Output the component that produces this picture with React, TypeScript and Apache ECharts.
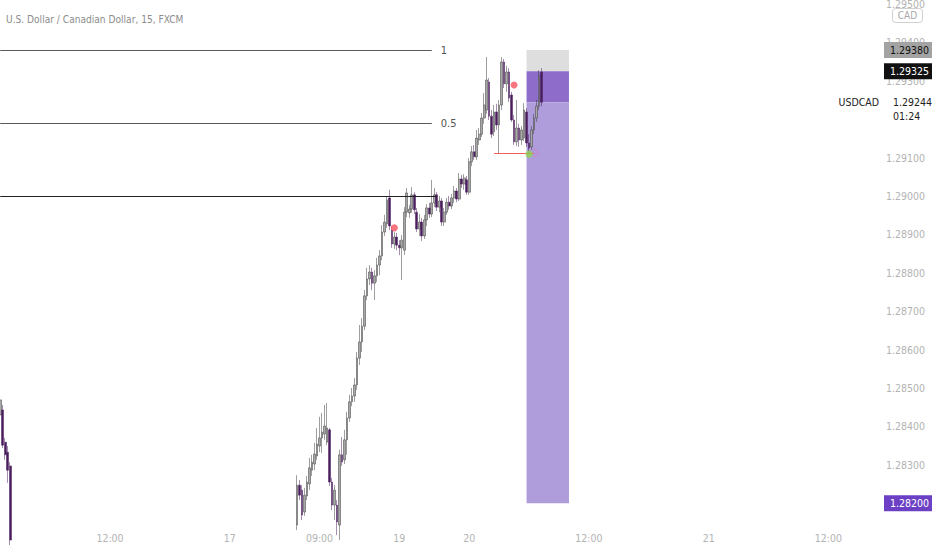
import React, { useEffect, useRef } from "react";
import * as echarts from "echarts";

// ---- data ----
const titleText = "U.S. Dollar / Canadian Dollar, 15, FXCM";
const symbolName = "USDCAD";
const countdown = "01:24";

// 15-minute bars: [open, close, low, high]
const leftStart = "16 01:00";
const leftCandles: number[][] = [
  [1.2843, 1.28469, 1.28422, 1.28482],
  [1.28443, 1.28351, 1.28344, 1.28456],
  [1.28359, 1.28326, 1.28313, 1.2837],
  [1.28333, 1.28286, 1.28253, 1.28349],
  [1.28297, 1.28104, 1.28091, 1.28307],
];

const mainStart = "17 06:45";
const mainCandles: number[][] = [
  [1.28143, 1.28247, 1.2813, 1.28273],
  [1.28247, 1.28221, 1.28208, 1.2826],
  [1.28234, 1.28169, 1.28156, 1.28247],
  [1.28177, 1.28221, 1.28167, 1.2824],
  [1.28219, 1.28255, 1.28208, 1.28271],
  [1.2825, 1.28292, 1.28234, 1.28318],
  [1.28286, 1.28307, 1.28271, 1.28326],
  [1.28302, 1.28328, 1.28286, 1.28357],
  [1.28323, 1.28354, 1.28313, 1.28396],
  [1.28349, 1.2837, 1.28333, 1.28425],
  [1.2837, 1.28385, 1.28331, 1.28435],
  [1.2838, 1.28401, 1.28365, 1.28456],
  [1.28359, 1.28396, 1.28351, 1.28461],
  [1.28391, 1.28255, 1.28245, 1.28396],
  [1.28255, 1.28195, 1.28182, 1.28266],
  [1.28195, 1.28234, 1.28156, 1.28247],
  [1.28195, 1.28151, 1.28117, 1.28208],
  [1.28143, 1.28326, 1.28104, 1.28339],
  [1.28326, 1.28307, 1.28297, 1.28372],
  [1.28313, 1.28365, 1.28302, 1.28391],
  [1.28365, 1.28422, 1.28326, 1.28438],
  [1.28422, 1.28464, 1.28412, 1.28482],
  [1.28464, 1.28479, 1.28453, 1.285],
  [1.28479, 1.28508, 1.28464, 1.28526],
  [1.28508, 1.28578, 1.28495, 1.28594],
  [1.28578, 1.2862, 1.2856, 1.28664],
  [1.2862, 1.28661, 1.28594, 1.28682],
  [1.28661, 1.2874, 1.28651, 1.28755],
  [1.2874, 1.28784, 1.28729, 1.28813],
  [1.28784, 1.28802, 1.28768, 1.2882],
  [1.28802, 1.28773, 1.28755, 1.28813],
  [1.28773, 1.28792, 1.28729, 1.28807],
  [1.28792, 1.2882, 1.28776, 1.28839],
  [1.2882, 1.28844, 1.28794, 1.28859],
  [1.28844, 1.28906, 1.28833, 1.28924],
  [1.28906, 1.28932, 1.28896, 1.28951],
  [1.28927, 1.2899, 1.28917, 1.29],
  [1.28995, 1.28922, 1.28911, 1.29016],
  [1.28911, 1.28875, 1.28865, 1.28922],
  [1.28875, 1.28893, 1.28862, 1.28906],
  [1.28893, 1.28872, 1.28859, 1.28904],
  [1.28872, 1.28865, 1.28846, 1.28885],
  [1.28865, 1.28885, 1.28781, 1.28898],
  [1.28859, 1.28958, 1.28846, 1.28971],
  [1.28958, 1.29008, 1.28945, 1.29021],
  [1.28956, 1.28966, 1.28943, 1.28977],
  [1.28966, 1.29003, 1.28956, 1.29023],
  [1.29003, 1.28964, 1.28953, 1.2901],
  [1.28958, 1.28914, 1.28906, 1.28969],
  [1.28914, 1.28932, 1.28896, 1.28953],
  [1.28932, 1.28896, 1.28883, 1.28943],
  [1.28896, 1.28938, 1.28888, 1.28951],
  [1.28938, 1.28969, 1.28922, 1.28979],
  [1.28969, 1.28953, 1.28943, 1.28982],
  [1.28953, 1.28982, 1.28945, 1.29042],
  [1.28982, 1.29003, 1.28971, 1.29021],
  [1.29003, 1.28971, 1.28961, 1.2901],
  [1.28971, 1.28987, 1.28958, 1.29],
  [1.28987, 1.28932, 1.28922, 1.28995],
  [1.28932, 1.28958, 1.28922, 1.28969],
  [1.28958, 1.28984, 1.28951, 1.28995],
  [1.28984, 1.28974, 1.28964, 1.29],
  [1.28974, 1.28995, 1.28966, 1.29005],
  [1.28995, 1.29013, 1.28982, 1.29026],
  [1.29013, 1.28992, 1.28984, 1.29021],
  [1.28992, 1.29044, 1.28987, 1.2906],
  [1.29044, 1.29031, 1.29021, 1.29055],
  [1.29031, 1.29047, 1.29016, 1.29057],
  [1.29042, 1.2901, 1.29003, 1.29052],
  [1.2901, 1.29089, 1.29003, 1.29099],
  [1.29089, 1.29115, 1.29078, 1.2913],
  [1.29115, 1.29102, 1.29094, 1.29133],
  [1.29102, 1.29151, 1.29094, 1.29172],
  [1.29146, 1.29161, 1.29133, 1.29177],
  [1.29161, 1.29203, 1.29154, 1.29216],
  [1.29203, 1.29237, 1.29188, 1.29268],
  [1.29224, 1.29302, 1.29214, 1.29362],
  [1.29297, 1.29208, 1.29198, 1.29307],
  [1.29208, 1.29161, 1.29151, 1.29224],
  [1.29167, 1.29219, 1.29156, 1.29237],
  [1.29219, 1.29185, 1.29172, 1.2924],
  [1.29185, 1.29237, 1.29112, 1.2925],
  [1.29237, 1.29349, 1.29224, 1.29362],
  [1.29349, 1.29292, 1.29281, 1.29357],
  [1.29292, 1.29323, 1.29271, 1.29339],
  [1.29323, 1.29255, 1.29245, 1.29333],
  [1.29263, 1.29198, 1.29193, 1.29271],
  [1.29198, 1.29141, 1.29133, 1.29211],
  [1.29141, 1.29177, 1.2913, 1.2925],
  [1.29177, 1.29146, 1.29128, 1.29188],
  [1.29146, 1.29172, 1.29133, 1.29182],
  [1.29151, 1.29224, 1.29143, 1.29242],
  [1.29219, 1.29138, 1.29128, 1.29229],
  [1.29138, 1.29125, 1.29109, 1.29161],
  [1.29128, 1.29172, 1.2912, 1.29182],
  [1.29172, 1.29203, 1.29161, 1.29214],
  [1.29203, 1.29234, 1.29193, 1.2925],
  [1.29234, 1.29313, 1.29224, 1.29328],
  [1.29323, 1.29244, 1.29234, 1.29333],
];

const barCount = 354;
const xTickTimes = ["16 12:00", "17 00:00", "17 09:00", "19 17:00", "20 00:00", "20 12:00", "21 00:00", "21 12:00"];
const xTickLabels = ["12:00", "17", "09:00", "19", "20", "12:00", "21", "12:00"];
const yTicks = [1.283, 1.284, 1.285, 1.286, 1.287, 1.288, 1.289, 1.29, 1.291, 1.293, 1.294, 1.295];
const yMin = 1.2814583;
const yMax = 1.2951042;

const fibLabels = ["1", "0.5"];
const fibPrices = [1.2938, 1.2919];
const fibStart = "16 01:00";
const fibEnd = "19 20:15";
const baseLinePrice = 1.29;
const baseLineEnd = "19 20:45";

const signalTimes = ["17 16:30", "20 04:30", "20 06:00"];
const signalPrices = [1.28917, 1.29289, 1.29109];
const signalColors = ["#f7525f", "#f7525f", "#8fd44f"];

const sweepStart = "20 02:30";
const sweepEnd = "20 06:30";
const sweepArrow = "20 06:45";
const sweepPrice = 1.29112;

const posStart = "20 05:45";
const posEnd = "20 10:00";
const stopPrice = 1.2938;
const entryPrice = 1.29325;
const lastPrice = 1.29244;
const targetPrice = 1.282;

// ---- helpers ----
function pad(n: number) {
  return n < 10 ? "0" + n : String(n);
}
function buildTimes(count: number): string[] {
  const out: string[] = [];
  let d = 16;
  let m = 60;
  for (let i = 0; i < count; i++) {
    out.push(`${d} ${pad(Math.floor(m / 60))}:${pad(m % 60)}`);
    m += 15;
    if (m >= 1440) {
      m -= 1440;
      d++;
    }
    if (d === 17 && m >= 1020) {
      d = 19;
      m = 1020;
    }
  }
  return out;
}

const FONT = '"Liberation Sans Narrow", "DejaVu Sans Condensed", "Liberation Sans", sans-serif';
const HIDDEN_LINE = { color: "rgba(0,0,0,0)", width: 0 };

export default function App() {
  const ref = useRef<HTMLDivElement>(null);
  useEffect(() => {
    if (!ref.current) return;
    const chart = echarts.init(ref.current, undefined, { renderer: "svg" });
    const times = buildTimes(barCount);
    const rows: any[] = [];
    const li = times.indexOf(leftStart);
    leftCandles.forEach((c, i) => rows.push([times[li + i], ...c]));
    const mi = times.indexOf(mainStart);
    mainCandles.forEach((c, i) => rows.push([times[mi + i], ...c]));
    const tickMap: Record<string, string> = {};
    xTickTimes.forEach((t, i) => (tickMap[t] = xTickLabels[i]));

    const badge = (price: number, bg: string, fg: string) => ({
      yAxis: price,
      lineStyle: HIDDEN_LINE,
      label: {
        show: true,
        position: "end",
        distance: 2,
        formatter: price.toFixed(5),
        backgroundColor: bg,
        color: fg,
        padding: [2, 3, 2, 6],
        fontSize: 10.5,
        fontFamily: FONT,
        lineHeight: 12,
      },
    });

    chart.setOption({
      animation: false,
      backgroundColor: "#ffffff",
      title: {
        text: titleText,
        left: 1,
        top: 9,
        textStyle: { fontSize: 10.1, color: "#8c8c8c", fontWeight: "normal", fontFamily: FONT },
      },
      grid: { left: -1, top: 0, width: 883, height: 524, outerBoundsMode: "none", containLabel: false },
      xAxis: {
        type: "category",
        data: times,
        boundaryGap: true,
        axisLine: { show: false },
        axisTick: { show: false },
        splitLine: { show: false },
        axisLabel: {
          interval: (_i: number, v: string) => tickMap[v] !== undefined,
          formatter: (v: string) => tickMap[v] ?? "",
          color: "#b3b3b3",
          fontSize: 10.5,
          fontFamily: FONT,
          margin: 8,
        },
      },
      yAxis: {
        type: "value",
        position: "right",
        min: yMin,
        max: yMax,
        scale: true,
        axisLine: { show: false },
        axisTick: { show: false },
        splitLine: { show: false },
        axisLabel: {
          customValues: yTicks,
          formatter: (v: number) => v.toFixed(5),
          color: "#b3b3b3",
          fontSize: 10.5,
          fontFamily: FONT,
          align: "right",
          margin: 43,
        },
      },
      graphic: [
        {
          type: "group",
          right: 9,
          top: 8,
          children: [
            {
              type: "rect",
              shape: { x: 0, y: 0, width: 30, height: 14, r: 3 },
              style: { fill: "#ffffff", stroke: "#cfcfcf", lineWidth: 1 },
            },
            {
              type: "text",
              x: 15,
              y: 7,
              style: {
                text: "CAD",
                align: "center",
                verticalAlign: "middle",
                fill: "#a8a8a8",
                fontSize: 10,
                fontFamily: FONT,
              },
            },
          ],
        },
      ],
      series: [
        {
          type: "candlestick",
          data: rows,
          encode: { x: 0, y: [1, 2, 3, 4] },
          barWidth: 2.2,
          clip: true,
          z: 3,
          itemStyle: {
            color: "#a8a8a8",
            color0: "#4a1d5c",
            borderColor: "#3c3c3c",
            borderColor0: "#4a1d5c",
            borderWidth: 0.5,
          },
          markArea: {
            silent: true,
            data: [
              [{ coord: [posStart, stopPrice], itemStyle: { color: "#dedede" } }, { coord: [posEnd, entryPrice] }],
              [{ coord: [posStart, entryPrice], itemStyle: { color: "#8d6dc9" } }, { coord: [posEnd, lastPrice] }],
              [{ coord: [posStart, lastPrice], itemStyle: { color: "#af9cda" } }, { coord: [posEnd, targetPrice] }],
            ],
          },
          markLine: {
            silent: true,
            symbol: ["none", "none"],
            precision: 5,
            data: [
              ...fibPrices.map((p, i) => [
                {
                  coord: [fibStart, p],
                  lineStyle: { color: "#5a5a5a", width: 1, type: "solid" },
                  label: {
                    show: true,
                    position: "end",
                    distance: 9,
                    formatter: fibLabels[i],
                    color: "#555555",
                    fontSize: 11,
                    fontFamily: FONT,
                  },
                },
                { coord: [fibEnd, p] },
              ]),
              [
                {
                  coord: [fibStart, baseLinePrice],
                  lineStyle: { color: "#222222", width: 1, type: "solid" },
                  label: { show: false },
                },
                { coord: [baseLineEnd, baseLinePrice] },
              ],
            ],
          },
        },
        {
          type: "scatter",
          data: signalTimes.map((t, i) => ({
            value: [t, signalPrices[i]],
            itemStyle: { color: signalColors[i] },
          })),
          symbolSize: 7,
          z: 6,
          clip: false,
          silent: true,
          markLine: {
            silent: true,
            symbol: ["none", "none"],
            precision: 5,
            data: [
              [
                {
                  coord: [sweepStart, sweepPrice],
                  lineStyle: { color: "#f25c5c", width: 1, type: "solid" },
                  label: { show: false },
                },
                { coord: [sweepEnd, sweepPrice] },
              ],
              badge(stopPrice, "#a3a3a3", "#111111"),
              badge(entryPrice, "#111111", "#ffffff"),
              badge(targetPrice, "#6b40c4", "#ffffff"),
              {
                yAxis: lastPrice,
                lineStyle: HIDDEN_LINE,
                label: {
                  show: true,
                  position: "end",
                  distance: 11,
                  formatter: `\n${lastPrice.toFixed(5)}\n${countdown}`,
                  color: "#222222",
                  fontSize: 10.5,
                  lineHeight: 14,
                  fontFamily: FONT,
                },
              },
              {
                yAxis: lastPrice,
                lineStyle: HIDDEN_LINE,
                label: {
                  show: true,
                  position: "insideEnd",
                  distance: 3,
                  formatter: symbolName,
                  color: "#222222",
                  fontSize: 10.5,
                  fontFamily: FONT,
                },
              },
            ],
          },
        },
        {
          type: "scatter",
          data: [[sweepArrow, sweepPrice]],
          symbol: "path://M0,0L8,6L0,12",
          symbolSize: [5, 8],
          itemStyle: { color: "rgba(0,0,0,0)", borderColor: "#d47fd0", borderWidth: 1 },
          z: 5,
          silent: true,
        },
      ],
    });
    return () => chart.dispose();
  }, []);
  return (
    <div
      ref={ref}
      style={{ position: "fixed", left: 0, top: 0, width: 932, height: 550, background: "#fff" }}
    />
  );
}
